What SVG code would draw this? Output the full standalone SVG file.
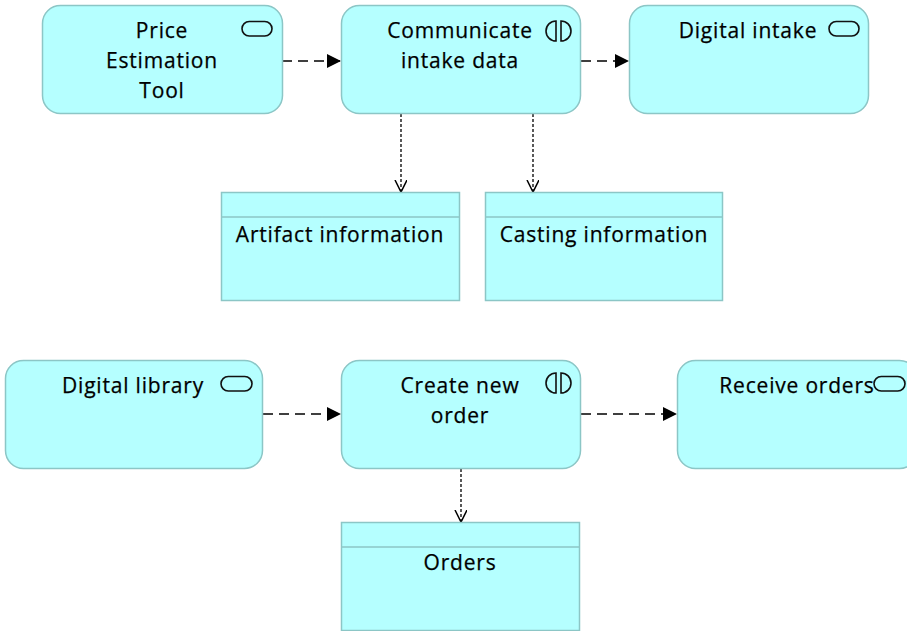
<svg xmlns="http://www.w3.org/2000/svg" width="907" height="631" viewBox="0 0 907 631">
  <style>
    .app { fill: #b5ffff; stroke: #8cc6c6; stroke-width: 1.5; }
    .hdr { stroke: #8cc6c6; stroke-width: 1.5; fill: none; }
    .lbl { font-family: "Open Sans", "Noto Sans", "Liberation Sans", sans-serif; font-size: 21px; letter-spacing: 0.8px; fill: #000; stroke: #000; stroke-width: 0.25; text-anchor: middle; }
    .ico { fill: none; stroke: #111; stroke-width: 1.6; }
    .flow { fill: none; stroke: #000; stroke-width: 1.6; stroke-dasharray: 10 6; }
    .access { fill: none; stroke: #000; stroke-width: 1.3; stroke-dasharray: 3 2; }
  </style>
  <defs>
    <marker id="tri" markerUnits="userSpaceOnUse" markerWidth="16" markerHeight="16" refX="14" refY="7" orient="auto">
      <path d="M0,0 L14,7 L0,14 z" fill="#000"/>
    </marker>
    <marker id="vee" markerUnits="userSpaceOnUse" markerWidth="16" markerHeight="16" refX="12" refY="6" orient="auto">
      <path d="M0,0 L12,6 L0,12" fill="none" stroke="#000" stroke-width="1.5"/>
    </marker>
  </defs>

  <rect width="907" height="631" fill="#fff"/>

  <!-- connectors -->
  <g id="connectors">
    <line class="flow" x1="282" y1="61" x2="341" y2="61" marker-end="url(#tri)"/>
    <line class="flow" x1="581" y1="61" x2="629" y2="61" marker-end="url(#tri)"/>
    <line class="access" x1="401" y1="114" x2="401" y2="192" marker-end="url(#vee)"/>
    <line class="access" x1="533" y1="114" x2="533" y2="192" marker-end="url(#vee)"/>
    <line class="flow" x1="263" y1="414" x2="341" y2="414" marker-end="url(#tri)"/>
    <line class="flow" x1="581" y1="414" x2="677" y2="414" marker-end="url(#tri)"/>
    <line class="access" x1="461" y1="469" x2="461" y2="522" marker-end="url(#vee)"/>
  </g>

  <!-- application services / interactions -->
  <g id="price-estimation-tool">
    <rect class="app" x="42.5" y="5.5" width="240" height="108" rx="18"/>
    <rect class="ico" x="242" y="21.5" width="30" height="14.5" rx="7.25"/>
    <text class="lbl" x="162" y="38">Price</text>
    <text class="lbl" x="162" y="68">Estimation</text>
    <text class="lbl" x="162" y="98">Tool</text>
  </g>

  <g id="communicate-intake-data">
    <rect class="app" x="341.5" y="5.5" width="239" height="108" rx="18"/>
    <path class="ico" d="M556,21 A10,10 0 0,0 556,41 Z M561,21 A10,10 0 0,1 561,41 Z"/>
    <text class="lbl" x="460" y="38">Communicate</text>
    <text class="lbl" x="460" y="68">intake data</text>
  </g>

  <g id="digital-intake">
    <rect class="app" x="629.5" y="5.5" width="239" height="108" rx="18"/>
    <rect class="ico" x="829" y="21.5" width="30" height="14.5" rx="7.25"/>
    <text class="lbl" x="748" y="38">Digital intake</text>
  </g>

  <!-- data objects -->
  <g id="artifact-information">
    <rect class="app" x="221.5" y="192.5" width="238" height="108"/>
    <line class="hdr" x1="221.5" y1="217" x2="459.5" y2="217"/>
    <text class="lbl" x="340" y="242">Artifact information</text>
  </g>

  <g id="casting-information">
    <rect class="app" x="485.5" y="192.5" width="237" height="108"/>
    <line class="hdr" x1="485.5" y1="217" x2="722.5" y2="217"/>
    <text class="lbl" x="604" y="242">Casting information</text>
  </g>

  <g id="digital-library">
    <rect class="app" x="5.5" y="360.5" width="257" height="108" rx="18"/>
    <rect class="ico" x="221" y="376.5" width="31" height="14.5" rx="7.25"/>
    <text class="lbl" x="133" y="393">Digital library</text>
  </g>

  <g id="create-new-order">
    <rect class="app" x="341.5" y="360.5" width="239" height="108" rx="18"/>
    <path class="ico" d="M556,373 A10,10 0 0,0 556,393 Z M561,373 A10,10 0 0,1 561,393 Z"/>
    <text class="lbl" x="460" y="393">Create new</text>
    <text class="lbl" x="460" y="423">order</text>
  </g>

  <g id="receive-orders">
    <rect class="app" x="677.5" y="360.5" width="240" height="108" rx="18"/>
    <rect class="ico" x="874" y="376.5" width="31" height="14.5" rx="7.25"/>
    <text class="lbl" x="797" y="393">Receive orders</text>
  </g>

  <g id="orders">
    <rect class="app" x="341.5" y="522.5" width="238" height="108"/>
    <line class="hdr" x1="341.5" y1="547" x2="579.5" y2="547"/>
    <text class="lbl" x="460" y="570">Orders</text>
  </g>
</svg>
